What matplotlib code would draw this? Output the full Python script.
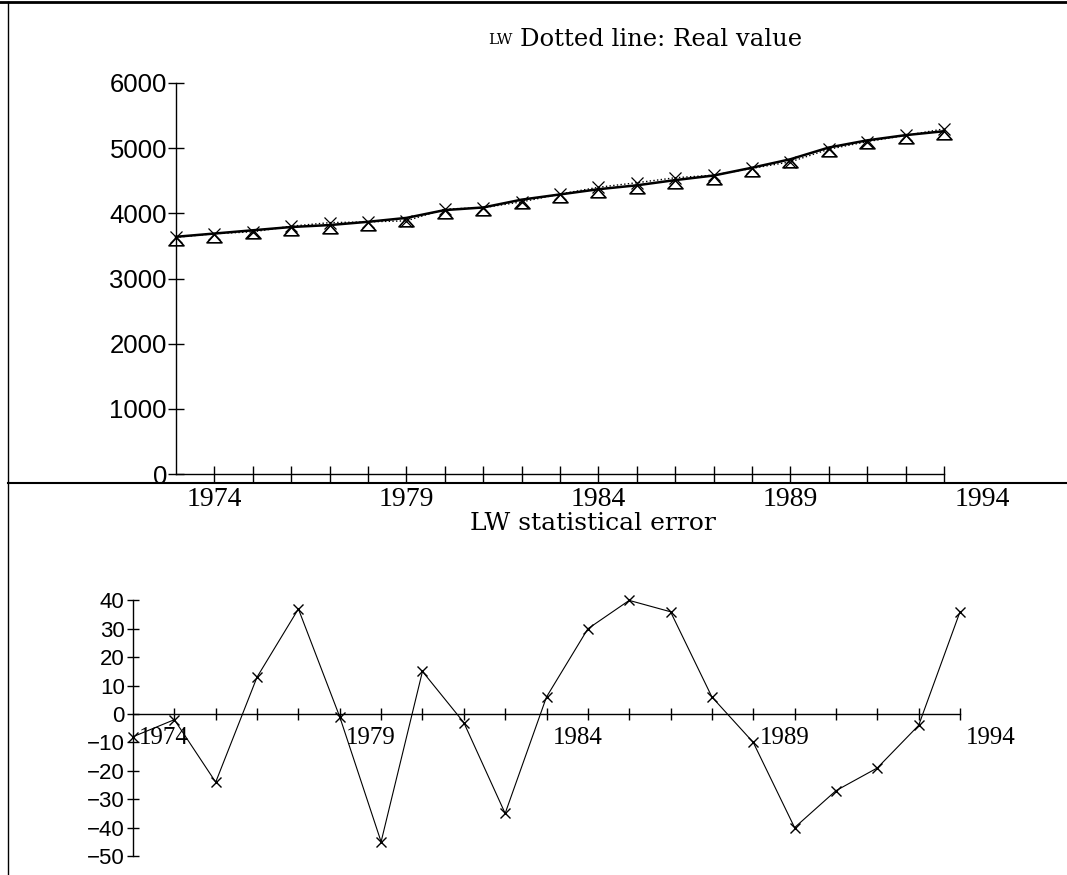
import matplotlib
matplotlib.use("Agg")
import matplotlib.pyplot as plt
from matplotlib.lines import Line2D
from matplotlib.path import Path

W, H = 1067, 875

years = list(range(1973, 1994))
lw_fitted = [3640, 3690, 3740, 3790, 3820, 3870, 3930, 4050, 4090, 4210, 4290,
             4370, 4430, 4510, 4580, 4700, 4830, 5010, 5120, 5200, 5260]
lw_real = [3632, 3688, 3716, 3803, 3857, 3869, 3885, 4065, 4087, 4175, 4296,
           4400, 4470, 4546, 4586, 4690, 4790, 4983, 5101, 5195, 5296]
lw_error = [-8, -2, -24, 13, 37, -1, -45, 15, -3, -35, 6,
            30, 40, 36, 6, -10, -40, -27, -19, -4, 36]

top_yticks = [0, 1000, 2000, 3000, 4000, 5000, 6000]
bot_yticks = [40, 30, 20, 10, 0, -10, -20, -30, -40, -50]
year_labels = [1974, 1979, 1984, 1989, 1994]

serif = ["DejaVu Serif"]
narrow = ["Liberation Sans Narrow", "DejaVu Sans Condensed", "Liberation Sans"]
numfont = ["Liberation Serif"]

# open triangle whose apex sits on the data point
tri = Path([(0, 0), (-0.9, -1.0), (0.9, -1.0), (0, 0)],
           [Path.MOVETO, Path.LINETO, Path.LINETO, Path.CLOSEPOLY])


def px_axes(fig, x0, x1, y0, y1):
    # pixel box (left, right, top, bottom) -> figure axes
    return fig.add_axes([x0 / W, 1 - y1 / H, (x1 - x0) / W, (y1 - y0) / H])


fig = plt.figure(figsize=(W / 100, H / 100), dpi=100)

# ---- upper panel: level of LW ----
ax = px_axes(fig, 176, 176 + 21 * 38.4, 83, 474)
ax.set_xlim(1973, 1994)
ax.set_ylim(0, 6000)
ax.plot(years, lw_real, color="black", lw=1, ls=":", marker="x", ms=9,
        mew=0.9, clip_on=False, zorder=3)
ax.plot(years, lw_fitted, color="black", lw=1.8, marker=tri, ms=12,
        mfc="white", mec="black", mew=1.2, clip_on=False, zorder=2)
for s in ("top", "right"):
    ax.spines[s].set_visible(False)
ax.spines["bottom"].set_bounds(1973, 1993)
ax.spines["left"].set_linewidth(1)
ax.spines["bottom"].set_linewidth(1)
ax.set_xticks(range(1974, 1994))
ax.set_xticklabels([])
ax.set_yticks(top_yticks)
ax.set_yticklabels([str(v) for v in top_yticks], family=narrow, fontsize=18.5)
ax.tick_params(axis="both", direction="inout", length=11, width=1)
ax.tick_params(axis="y", pad=1)
for yr in year_labels:
    ax.annotate(str(yr), (yr, 0), xytext=(0, -9), textcoords="offset points",
                ha="center", va="top", family=numfont, fontsize=20)

fig.text(488 / W, 1 - 40 / H, "LW", family=serif, fontsize=11, va="center")
fig.text(520 / W, 1 - 40 / H, "Dotted line: Real value", family=serif,
         fontsize=17.5, va="center")

# ---- lower panel: statistical error ----
bx = px_axes(fig, 133, 133 + 21 * 41.35, 600.4, 856)
bx.set_xlim(1973, 1994)
bx.set_ylim(-50, 40)
bx.plot(years, lw_error, color="black", lw=0.8, marker="x", ms=7, mew=1,
        clip_on=False)
for s in ("top", "right"):
    bx.spines[s].set_visible(False)
bx.spines["bottom"].set_position(("data", 0))
bx.spines["bottom"].set_bounds(1973, 1993)
bx.spines["left"].set_linewidth(1)
bx.spines["bottom"].set_linewidth(1)
bx.set_xticks(range(1974, 1994))
bx.set_xticklabels([])
bx.set_yticks(bot_yticks)
bx.set_yticklabels([str(v).replace("-", "\u2212") for v in bot_yticks],
                   family=narrow, fontsize=16)
bx.tick_params(axis="both", direction="inout", length=8, width=1)
bx.tick_params(axis="y", pad=2)
for yr in year_labels:
    bx.annotate(str(yr), (yr - 0.25, 0), xytext=(0, -9),
                textcoords="offset points", ha="center", va="top",
                family=numfont, fontsize=18)

fig.text(593 / W, 1 - 523 / H, "LW statistical error", family=serif,
         fontsize=18, ha="center", va="center")

# page frame: top rule, left rule, panel separator
fig.add_artist(Line2D([0, 1], [1 - 2 / H, 1 - 2 / H], color="black", lw=2))
fig.add_artist(Line2D([8 / W, 8 / W], [0, 1 - 2 / H], color="black", lw=1))
fig.add_artist(Line2D([8 / W, 1], [1 - 483 / H, 1 - 483 / H], color="black",
                      lw=1.5))

fig.savefig("out.png", dpi=100)
